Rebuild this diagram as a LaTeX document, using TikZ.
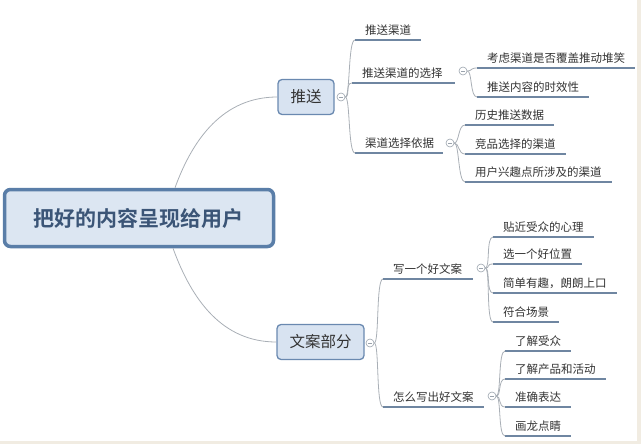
\documentclass[tikz,border=0pt]{standalone}
\usepackage{fontspec}
\newfontfamily\cjk{Noto Sans CJK SC}[BoldFont=Noto Sans CJK SC Bold]
\usetikzlibrary{positioning,calc}
\definecolor{rootfill}{HTML}{DCE6F2}
\definecolor{rootdraw}{HTML}{5A7EA8}
\definecolor{roottext}{HTML}{3B5577}
\definecolor{boxfill}{HTML}{D8E3F1}
\definecolor{boxdraw}{HTML}{6A89B0}
\definecolor{labelc}{HTML}{333333}
\definecolor{ulinec}{HTML}{6F86A1}
\definecolor{branchc}{HTML}{A9AFB6}
\definecolor{foldc}{HTML}{9AA3AD}
\definecolor{edgec}{HTML}{F1ECE2}

\begin{document}
\begin{tikzpicture}[
  x=1pt, y=-1pt,
  rootbox/.style={
    rectangle, rounded corners=6pt, draw=rootdraw, fill=rootfill,
    line width=3.5pt, minimum width=269pt, minimum height=57pt,
    font=\cjk\bfseries\fontsize{21}{24}\selectfont, text=roottext
  },
  topicbox/.style={
    rectangle, rounded corners=4pt, draw=boxdraw, fill=boxfill,
    line width=1.3pt, minimum height=35pt, inner xsep=8pt,
    font=\cjk\fontsize{15.5}{18}\selectfont, text=labelc
  },
  leaf/.style={
    anchor=south west, inner xsep=10pt, inner ysep=4.5pt,
    font=\cjk\fontsize{11.5}{14}\selectfont, text=labelc
  },
  fold/.style={
    circle, draw=foldc, line width=0.6pt, minimum size=8pt, inner sep=0pt,
    path picture={\draw[foldc, line width=0.6pt]
      ([xshift=-2pt]path picture bounding box.center) --
      ([xshift=2pt]path picture bounding box.center);}
  },
  uline/.style={draw=ulinec, line width=2.4pt},
  limb/.style={draw=branchc, line width=0.8pt},
  twig/.style={draw=branchc, line width=0.8pt,
    to path={.. controls +(5,0) and +(-7,0) .. (\tikztotarget)}},
]
\useasboundingbox (0,0) rectangle (641,444);
\fill[edgec] (637,0) rectangle (641,444);
\fill[edgec] (0,441) rectangle (641,444);

% ---- root and main topics ----
\node[rootbox] (root) at (139,218) {把好的内容呈现给用户};
\node[topicbox, minimum width=56pt] (push) at (306,97) {推送};
\node[topicbox, minimum width=87pt] (copy) at (320.5,342) {文案部分};
\node[fold] (fpush) at (341,97) {};
\node[fold] (fcopy) at (370,343) {};

\draw[limb] ([xshift=36pt]root.north) to[out=70, in=180] (push.west);
\draw[limb] ([xshift=34pt]root.south) to[out=-70, in=180] (copy.west);

% ---- 推送 branch ----
\node[leaf] (pchan) at (355,40) {推送渠道};
\node[leaf] (pchoose) at (352,83) {推送渠道的选择};
\node[leaf] (pbasis) at (355,153) {渠道选择依据};
\node[fold] (fchoose) at (463,71) {};
\node[fold] (fbasis) at (450,143) {};

\node[leaf] (pcover) at (477,68) {考虑渠道是否覆盖推动堆笑};
\node[leaf] (ptime) at (477,97) {推送内容的时效性};
\node[leaf] (phist) at (465,125) {历史推送数据};
\node[leaf] (prival) at (465,154) {竞品选择的渠道};
\node[leaf] (puser) at (465,182) {用户兴趣点所涉及的渠道};

% ---- 文案部分 branch ----
\node[leaf] (cwrite) at (383,279) {写一个好文案};
\node[leaf] (chow) at (383,407) {怎么写出好文案};
\node[fold] (fwrite) at (481,268) {};
\node[fold] (fhow) at (492,396) {};

\node[leaf] (cmind) at (493,237) {贴近受众的心理};
\node[leaf] (cspot) at (493,264) {选一个好位置};
\node[leaf] (cfun) at (493,293) {简单有趣，朗朗上口};
\node[leaf] (cscene) at (493,322) {符合场景};
\node[leaf] (caud) at (505,351) {了解受众};
\node[leaf] (cprod) at (505,379) {了解产品和活动};
\node[leaf] (cexact) at (505,407) {准确表达};
\node[leaf] (cdot) at (505,436) {画龙点睛};

% ---- underlines ----
\foreach \n in {pchan,pcover,ptime,phist,prival,puser,
                cmind,cspot,cfun,cscene,caud,cprod,cexact,cdot}
  \draw[uline] (\n.south west) -- (\n.south east);
\draw[uline] (pchoose.south west) -- ([xshift=-4pt]fchoose.west |- pchoose.south);
\draw[uline] (pbasis.south west) -- ([xshift=-3pt]fbasis.west |- pbasis.south);
\draw[uline] (cwrite.south west) -- ([xshift=-4pt]fwrite.west |- cwrite.south);
\draw[uline] (chow.south west) -- ([xshift=-4pt]fhow.west |- chow.south);

% ---- branch curves ----
\draw[twig] (fpush.east) to (pchan.south west);
\draw[twig] (fpush.east) to (pchoose.south west);
\draw[twig] (fpush.east) to (pbasis.south west);
\draw[twig] (fchoose.east) to (pcover.south west);
\draw[twig] (fchoose.east) to (ptime.south west);
\draw[twig] (fbasis.east) to (phist.south west);
\draw[twig] (fbasis.east) to (prival.south west);
\draw[twig] (fbasis.east) to (puser.south west);
\draw[twig] (fcopy.east) to (cwrite.south west);
\draw[twig] (fcopy.east) to (chow.south west);
\draw[twig] (fwrite.east) to (cmind.south west);
\draw[twig] (fwrite.east) to (cspot.south west);
\draw[twig] (fwrite.east) to (cfun.south west);
\draw[twig] (fwrite.east) to (cscene.south west);
\draw[twig] (fhow.east) to (caud.south west);
\draw[twig] (fhow.east) to (cprod.south west);
\draw[twig] (fhow.east) to (cexact.south west);
\draw[twig] (fhow.east) to (cdot.south west);

\end{tikzpicture}
\end{document}
